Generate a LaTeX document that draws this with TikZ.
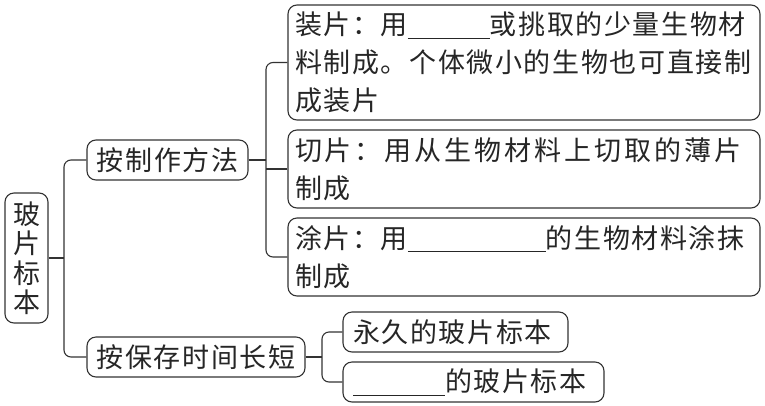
\documentclass[tikz,border=0pt]{standalone}
\usepackage{fontspec}
\newfontfamily\cjk[LetterSpace=6]{Noto Sans CJK SC}
\newfontfamily\cjkwide[LetterSpace=11]{Noto Sans CJK SC}
\newcommand\blank[1]{\rule[-4pt]{#1}{0.9pt}}
\begin{document}
\begin{tikzpicture}[x=1pt,y=-1pt,
  box/.style={draw=black!80, line width=1.1pt, rounded corners=9pt, inner sep=0pt,
    font=\cjk\fontsize{27}{38}\selectfont, text=black!85},
  conn/.style={draw=black!80, line width=1.1pt, rounded corners=7pt}]
\useasboundingbox[fill=white] (0,0) rectangle (765,405);

\node[box, minimum width=43pt, minimum height=130pt, align=center,
  font=\cjk\fontsize{27}{29.5}\selectfont] (root) at (26.5,258) {玻\\片\\标\\本};

\node[box, minimum width=161pt, minimum height=40pt] (m1) at (167.5,160) {按制作方法};
\node[box, minimum width=218pt, minimum height=40pt] (m2) at (196,357) {按保存时间长短};

\node[box, minimum width=472pt, minimum height=115pt, text width=458pt, align=left] (b1) at (524,62.5)
  {装片：用\blank{82pt}或挑取的少量生物材\\料制成。个体微小的生物也可直接制\\成装片};
\node[box, minimum width=472pt, minimum height=78pt, text width=458pt, align=left] (b2) at (524,169)
  {{\cjkwide 切片：用从生物材料上切取的薄片}\\制成};
\node[box, minimum width=472pt, minimum height=78pt, text width=458pt, align=left] (b3) at (524,257)
  {涂片：用\blank{138pt}的生物材料涂抹\\制成};

\node[box, minimum width=225pt, minimum height=40pt, text width=205pt, align=left] (b4) at (455.5,332)
  {永久的玻片标本};
\node[box, minimum width=261pt, minimum height=40pt, text width=241pt, align=left] (b5) at (473.5,382)
  {\blank{92pt}的玻片标本};

\coordinate (j1) at (64,258);
\coordinate (j2) at (266,160);
\coordinate (j3) at (322,357);

\draw[conn] (root.east) -- (j1);
\draw[conn] (m1.west) -| (j1) |- (m2.west);
\draw[conn] (m1.east) -- (j2);
\draw[conn] (b1.west) -| (j2) |- (b3.west);
\draw[conn] (b2.west) -- (b2.west -| j2);
\draw[conn] (m2.east) -- (j3);
\draw[conn] (b4.west) -| (j3) |- (b5.west);
\end{tikzpicture}
\end{document}
